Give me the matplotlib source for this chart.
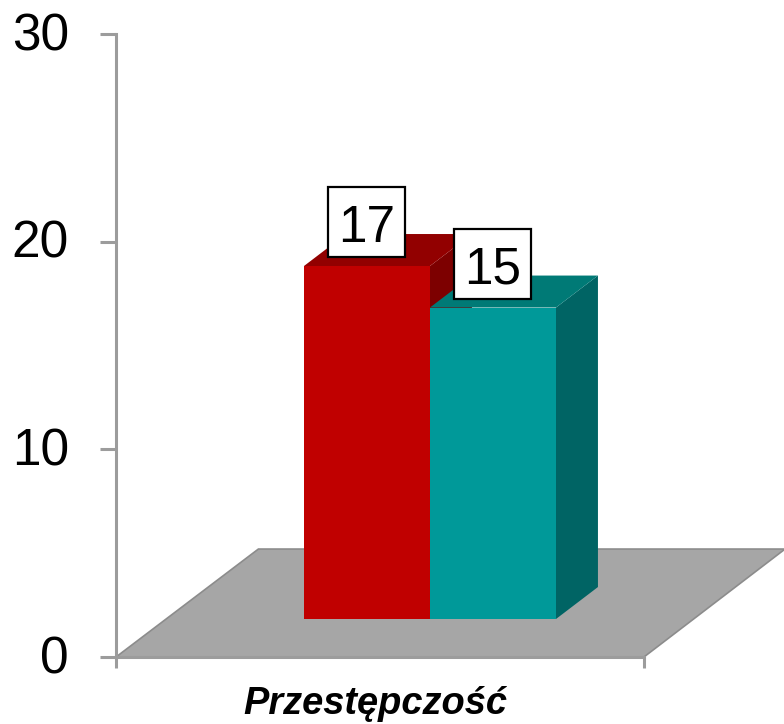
import matplotlib
matplotlib.use('Agg')
import matplotlib.pyplot as plt
from matplotlib.patches import Polygon, Rectangle
from matplotlib.transforms import ScaledTranslation

plt.rcParams['font.family'] = ['Liberation Sans', 'DejaVu Sans']

category = ['Przestępczość']
values = [17, 15]
y_ticks = [0, 10, 20, 30]

front_colors = ['#c00000', '#009999']
side_colors = ['#7d0000', '#006464']
top_colors = ['#920000', '#007a76']

# one x unit = one bar width, y in value units
bar_w = 1.0
x_left = [1.492, 2.492]
base = 1.83      # front of the bars sits this far up the floor
dx = 0.333       # depth of the 3d effect
dy = 1.54
floor_end = 4.19
floor_dx = 1.12
floor_dy = 5.2

fig = plt.figure(figsize=(7.84, 7.24), dpi=100)
ax = fig.add_axes([0, 0, 1, 1])
ax.set_xlim(-116 / 126, 668 / 126)
ax.set_ylim(-3.226, 31.64)

# floor
ax.add_patch(Polygon([(0, 0), (floor_end, 0), (floor_end + floor_dx, floor_dy), (floor_dx + 0.01, floor_dy)],
                     facecolor='#a6a6a6', edgecolor='#8c8c8c', lw=1.2, zorder=1))

for i, v in enumerate(values):
    x0 = x_left[i]
    x1 = x0 + bar_w
    top = base + v
    ax.add_patch(Polygon([(x1, base), (x1 + dx, base + dy), (x1 + dx, top + dy), (x1, top)],
                         facecolor=side_colors[i], lw=0, zorder=2 + i))
    ax.add_patch(Polygon([(x0, top), (x1, top), (x1 + dx, top + dy), (x0 + dx, top + dy)],
                         facecolor=top_colors[i], lw=0, zorder=2 + i))
    ax.bar(x0, v, bottom=base, width=bar_w, align='edge', color=front_colors[i], zorder=2 + i)

# value boxes
for i, v in enumerate(values):
    xc = x_left[i] + bar_w / 2 - 0.005
    ax.add_patch(Rectangle((xc - 0.305, base + v + 0.43), 0.61, 3.37, facecolor='white',
                           edgecolor='black', lw=1.6, zorder=5))
    ax.text(xc, base + v + 0.43 + 1.40, str(v), fontsize=37, ha='center', va='center', zorder=6)

for s in ['top', 'right']:
    ax.spines[s].set_visible(False)
ax.spines['left'].set_position(('data', 0))
ax.spines['left'].set_bounds(0, 30)
ax.spines['bottom'].set_position(('data', 0))
ax.spines['bottom'].set_bounds(0, floor_end)
for s in ['left', 'bottom']:
    ax.spines[s].set_color('#9c9c9c')
    ax.spines[s].set_linewidth(2.2)
    ax.spines[s].set_zorder(1.5)

ax.set_yticks(y_ticks)
ax.tick_params(axis='y', length=11.5, width=2.2, color='#9c9c9c', labelsize=37, pad=22.5)
# labels sit a little higher than matplotlib centres them
for lab in ax.get_yticklabels():
    lab.set_transform(lab.get_transform() + ScaledTranslation(0, 3 / 100, fig.dpi_scale_trans))
ax.set_xticks([0, floor_end], ['', ''])
ax.tick_params(axis='x', which='major', length=8, width=2.2, color='#9c9c9c')
ax.set_xticks([2.055], category, minor=True)
ax.tick_params(axis='x', which='minor', length=0, pad=21, labelsize=27.4)
for lab in ax.get_xticklabels(minor=True):
    lab.set_fontweight('bold')
    lab.set_fontstyle('italic')

fig.savefig('out.png', dpi=100)
